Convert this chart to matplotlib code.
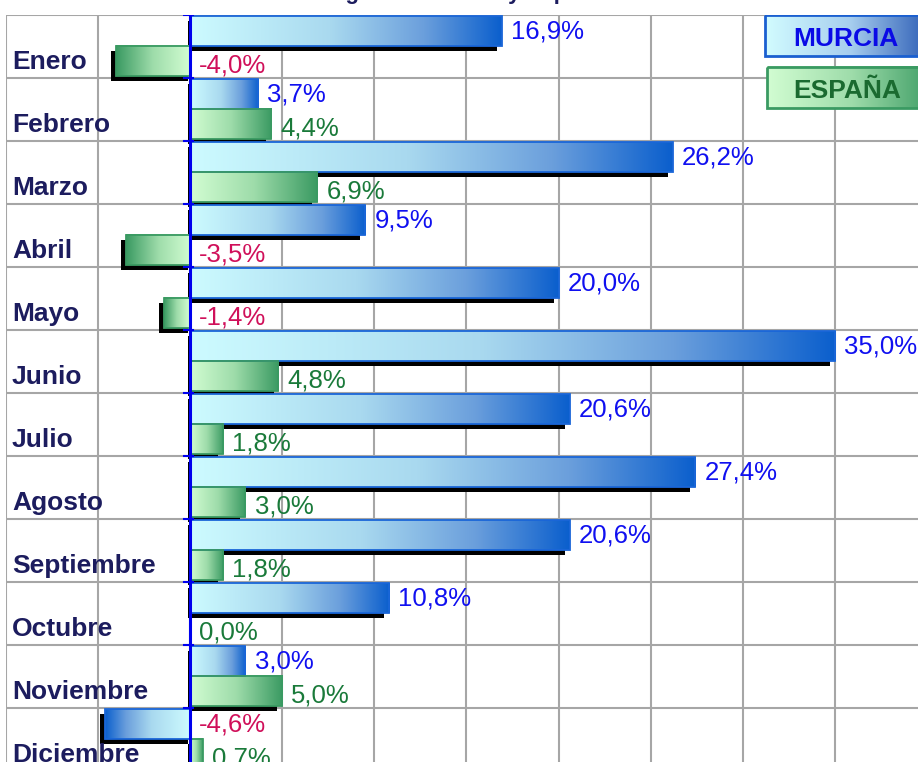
import numpy as np
import matplotlib
matplotlib.use('Agg')
import matplotlib.pyplot as plt
from matplotlib.colors import LinearSegmentedColormap
from matplotlib.patches import Rectangle

# datos: variacion interanual (%) por mes
meses = ['Enero', 'Febrero', 'Marzo', 'Abril', 'Mayo', 'Junio', 'Julio',
         'Agosto', 'Septiembre', 'Octubre', 'Noviembre', 'Diciembre']
murcia = [16.9, 3.7, 26.2, 9.5, 20.0, 35.0, 20.6, 27.4, 20.6, 10.8, 3.0, -4.6]
espana = [-4.0, 4.4, 6.9, -3.5, -1.4, 4.8, 1.8, 3.0, 1.8, 0.0, 5.0, 0.7]

plt.rcParams['font.family'] = ['Liberation Sans', 'DejaVu Sans']

#degradados de las barras
cmapMurcia = LinearSegmentedColormap.from_list(
    'murcia', [(0, '#cdfbff'), (0.45, '#a9d9ef'), (0.75, '#6b9fdc'), (1, '#0b5fcd')])
cmapEspana = LinearSegmentedColormap.from_list(
    'espana', [(0, '#d2fdd2'), (0.5, '#9edcaa'), (1, '#3a9a62')])
cmapLeyenda = LinearSegmentedColormap.from_list(
    'leyenda', [(0, '#d2fcff'), (0.5, '#a6cdee'), (1, '#2152b0')])
grad = np.linspace(0, 1, 256).reshape(1, -1)

azulTexto = '#1010f0'
verdeTexto = '#1a7a3a'
rojoTexto = '#d0105a'

fig = plt.figure(figsize=(9.18, 7.62), dpi=100)
ax = fig.add_axes([5.7 / 918, -9 / 762, 921.6 / 918, 756 / 762])

#sombra desplazada (izquierda y abajo)
dxLejos, dxCerca, dy = -0.27, -0.09, 0.08


def barra(v, y0, y1, cmap, borde):
    if v == 0:
        return
    if v > 0:
        ax.add_patch(Rectangle((dxCerca, y0 + dy), v + dxLejos - dxCerca, y1 - y0,
                               color='black', lw=0, zorder=2))
    else:
        ax.add_patch(Rectangle((v + dxLejos, y0 + dy), -v - dxLejos + dxCerca, y1 - y0,
                               color='black', lw=0, zorder=2))
    ax.imshow(grad, cmap=cmap, extent=(0, v, y1, y0), aspect='auto',
              interpolation='bilinear', zorder=3)
    ax.add_patch(Rectangle((0, y0), v, y1 - y0, fill=False, ec=borde, lw=1.3, zorder=4))


for i in range(len(meses)):
    m = murcia[i]
    e = espana[i]
    barra(m, i + 0.02, i + 0.49, cmapMurcia, '#1a66d8')
    barra(e, i + 0.49, i + 0.97, cmapEspana, '#3a9a62')

    #etiquetas de valores
    xm = m + 0.5 if m > 0 else 0.5
    ax.text(xm, i + 0.255, f'{m:.1f}%'.replace('.', ','), fontsize=18.5,
            color=azulTexto if m >= 0 else rojoTexto, ha='left', va='center', zorder=6)
    xe = e + 0.5 if e > 0 else 0.5
    ax.text(xe, i + 0.8, f'{e:.1f}%'.replace('.', ','), fontsize=18.5,
            color=verdeTexto if e >= 0 else rojoTexto, ha='left', va='center', zorder=6)

    #nombre del mes
    ax.text(-9.66, i + 0.74, meses[i], fontsize=19, fontweight='bold',
            color='#1c1c5e', ha='left', va='center', zorder=6)

#eje cero con marcas
ax.axvline(0, color='#0000ee', lw=2.2, zorder=5)
for b in range(13):
    ax.plot([-0.3, 0.15], [b, b], color='#0000ee', lw=1.5, zorder=5)

#leyenda
ax.imshow(grad, cmap=cmapLeyenda, extent=(31.2, 40.5, 0.65, 0.0), aspect='auto',
          interpolation='bilinear', zorder=7)
ax.add_patch(Rectangle((31.2, 0.0), 9.3, 0.65, fill=False, ec='#1a5fd0', lw=2, zorder=8))
ax.text(35.6, 0.38, 'MURCIA', fontsize=19, fontweight='bold', color='#0a0ae6',
        ha='center', va='center', zorder=9)
ax.imshow(grad, cmap=cmapEspana, extent=(31.3, 40.5, 1.476, 0.825), aspect='auto',
          interpolation='bilinear', zorder=7)
ax.add_patch(Rectangle((31.3, 0.825), 9.2, 0.651, fill=False, ec='#3a9a62', lw=2, zorder=8))
ax.text(35.65, 1.21, 'ESPAÑA', fontsize=19, fontweight='bold', color='#1a6a30',
        ha='center', va='center', zorder=9)

ax.set_xlim(-10, 40)
ax.set_ylim(12, 0)
ax.set_xticks(np.arange(-10, 41, 5))
ax.set_yticks(np.arange(0, 13))
ax.grid(True, color='#a6a6a6', lw=1.5)
ax.set_axisbelow(True)
ax.tick_params(length=0, labelleft=False, labelbottom=False)
for s in ax.spines.values():
    s.set_visible(False)

#titulo (queda casi todo fuera del recorte, como en el original)
fig.text(0.502, 1 + 1.5 / 762, 'Región de Murcia y España', fontsize=16, fontweight='bold',
         color='#1c1c5e', ha='center', va='baseline')

fig.savefig('out.png', dpi=100)
